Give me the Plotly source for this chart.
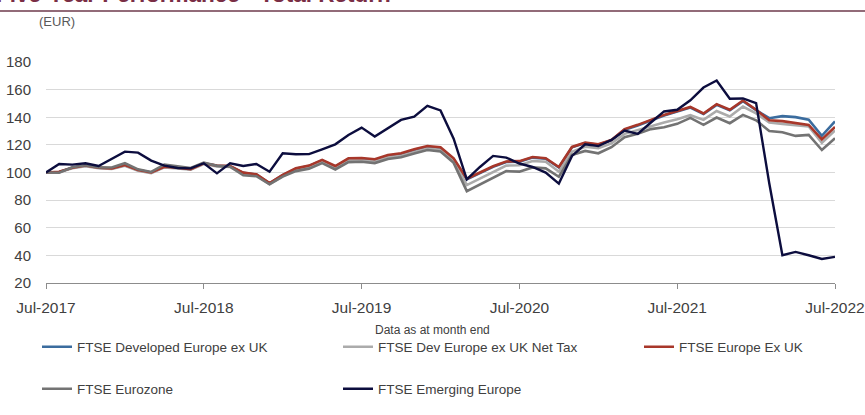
import plotly.graph_objects as go
import pandas as pd

months = [d.strftime("%b-%Y") for d in pd.date_range("2017-07-01", "2022-07-01", freq="MS")]
tick_labels = ["Jul-2017", "Jul-2018", "Jul-2019", "Jul-2020", "Jul-2021", "Jul-2022"]
y_ticks = [20, 40, 60, 80, 100, 120, 140, 160, 180]

dev_europe_ex_uk = [100, 100.4, 103.4, 104.9, 103.4, 102.9, 105.3, 101.7, 99.9, 104.1, 103.4, 102.4,
                    106.6, 104.9, 104.5, 99.7, 98.5, 92.2, 98.0, 102.7, 104.7, 108.7, 104.3, 109.8,
                    110.0, 109.0, 112.0, 113.2, 116.0, 118.4, 117.6, 109.6, 95.0, 99.6, 104.1, 107.6,
                    107.8, 110.8, 110.0, 103.6, 118.2, 121.3, 120.1, 123.3, 131.0, 134.1, 137.7, 141.3,
                    144.2, 147.0, 142.3, 149.0, 145.0, 151.6, 145.2, 139.3, 140.8, 140.1, 138.3, 126.6,
                    137.0]
dev_europe_net_tax = [100, 100.2, 103.1, 104.6, 103.1, 102.5, 104.9, 101.3, 99.5, 103.7, 103.0, 102.0,
                      106.2, 104.4, 104.0, 99.2, 97.9, 91.6, 97.4, 101.9, 103.8, 107.8, 103.4, 108.8,
                      108.9, 107.9, 111.0, 112.1, 114.9, 117.3, 116.4, 108.4, 90.9, 95.8, 100.6, 105.0,
                      105.2, 108.3, 107.8, 100.6, 115.0, 118.7, 117.6, 121.2, 128.0, 130.9, 133.8, 136.2,
                      138.6, 141.5, 138.1, 144.5, 140.6, 147.8, 142.8, 136.2, 135.2, 134.5, 133.3, 121.4,
                      130.4]
europe_ex_uk = [100, 100.5, 103.5, 105.0, 103.5, 103.0, 105.4, 101.8, 100.0, 104.2, 103.5, 102.5,
                106.7, 105.0, 104.7, 99.9, 98.7, 92.4, 98.2, 103.0, 105.0, 109.1, 104.7, 110.3,
                110.5, 109.6, 112.7, 113.9, 116.8, 119.2, 118.3, 110.3, 95.5, 100.0, 104.5, 108.0,
                108.2, 111.2, 110.3, 104.0, 118.5, 121.6, 120.4, 123.6, 131.4, 134.5, 138.1, 141.7,
                144.6, 147.5, 142.7, 149.5, 145.4, 152.1, 145.4, 137.8, 137.2, 136.0, 134.5, 124.0,
                133.0]
eurozone = [100, 99.8, 103.8, 105.2, 103.7, 103.6, 106.7, 102.3, 100.4, 105.8, 104.5, 103.3,
            107.2, 104.8, 104.2, 98.0, 97.3, 91.5, 97.0, 101.0, 102.8, 106.8, 102.2, 107.5,
            107.8, 106.8, 109.8, 111.0, 113.8, 116.3, 115.2, 107.0, 86.5, 91.4, 96.4, 101.0,
            100.6, 103.7, 103.0, 96.9, 112.7, 115.6, 113.9, 118.3, 125.6, 128.0, 131.4, 132.8,
            135.2, 139.5, 134.5, 139.8, 135.7, 141.7, 137.8, 130.1, 129.2, 126.5, 127.2, 116.3,
            124.8]
emerging_europe = [100, 106.2, 105.7, 106.7, 104.7, 109.6, 115.1, 114.4, 108.6, 105.0, 103.3, 103.0,
                   106.7, 99.4, 106.7, 104.7, 106.2, 100.6, 113.9, 113.2, 113.3, 116.8, 120.4, 127.2,
                   132.5, 126.0, 132.0, 138.1, 140.5, 148.3, 144.9, 124.5, 95.0, 104.0, 112.0, 110.8,
                   106.5, 104.0, 99.9, 92.0, 112.0, 120.4, 119.2, 123.6, 130.4, 127.9, 136.2, 144.2,
                   145.4, 152.3, 161.5, 166.6, 153.4, 153.6, 150.2, 92.2, 40.1, 42.5, 40.1, 37.4,
                   38.9]

W, H = 865, 415
# (name, values, colour, width, legend id, legend item x px, legend row y px)
series = [
    ("FTSE Developed Europe ex UK", dev_europe_ex_uk, "#3b6c9e", 2.6, "legend", 37, 347),
    ("FTSE Dev Europe ex UK Net Tax", dev_europe_net_tax, "#ababab", 2.6, "legend2", 338, 347),
    ("FTSE Europe Ex UK", europe_ex_uk, "#a8372a", 2.6, "legend3", 639, 347),
    ("FTSE Eurozone", eurozone, "#737373", 2.6, "legend4", 37, 389),
    ("FTSE Emerging Europe", emerging_europe, "#0c0d3e", 2.4, "legend5", 338, 389),
]

FONT = "Liberation Sans, Arial, sans-serif"

fig = go.Figure()
legends = {}
for name, vals, color, w, lg, lx, ly in series:
    fig.add_trace(go.Scatter(x=months, y=vals, name=name, mode="lines",
                             line=dict(color=color, width=w), legend=lg))
    legends[lg] = dict(orientation="h", xref="container", yref="container",
                       x=lx / W, y=1 - ly / H, xanchor="left", yanchor="middle",
                       font=dict(size=13.5, color="#404040"), bgcolor="rgba(0,0,0,0)")

L, R, T, B = 46, 30, 62, 132
PW, PH = W - L - R, H - T - B

def px_x(p):
    return (p - L) / PW

def px_y(p):
    return (H - B - p) / PH

fig.update_layout(
    width=W, height=H,
    margin=dict(l=L, r=R, t=T, b=B, autoexpand=False),
    paper_bgcolor="white", plot_bgcolor="white",
    font=dict(family=FONT, color="#404040"),
    xaxis=dict(type="category", range=[0, len(months) - 1], tickvals=tick_labels,
               ticktext=tick_labels, showgrid=False, showline=True, linecolor="#8c8c8c",
               linewidth=1, ticks="outside", ticklen=5, tickcolor="#8c8c8c",
               tickfont=dict(size=15.5, color="#404040"), ticklabelstandoff=5,
               zeroline=False, fixedrange=True, automargin=False),
    yaxis=dict(range=[20, 180], tickvals=y_ticks, showgrid=True, gridcolor="#d9d9d9",
               gridwidth=1, showline=False, ticks="", zeroline=False,
               tickfont=dict(size=15, color="#404040"), ticklabelstandoff=14,
               fixedrange=True, automargin=False),
    showlegend=True,
    **legends,
)

fig.add_shape(type="line", xref="paper", yref="paper", x0=px_x(0), x1=px_x(W),
              y0=px_y(11), y1=px_y(11), line=dict(color="#6e3a4b", width=1.5))

fig.add_annotation(text="<b>Five-Year Performance - Total Return</b>", xref="paper", yref="paper",
                   x=px_x(-6), y=px_y(9.5), xanchor="left", yanchor="bottom", showarrow=False,
                   font=dict(size=22.5, color="#7a2e45", family=FONT))
fig.add_annotation(text="(EUR)", xref="paper", yref="paper", x=px_x(56.5), y=px_y(21),
                   xanchor="center", yanchor="middle", showarrow=False,
                   font=dict(size=13, color="#595959", family=FONT))
fig.add_annotation(text="Data as at month end", xref="paper", yref="paper", x=px_x(432),
                   y=px_y(330), xanchor="center", yanchor="middle", showarrow=False,
                   font=dict(size=12, color="#404040", family=FONT))

fig.write_html("out.html", config={"displayModeBar": False},
               post_script="document.body.style.margin='0';document.body.style.overflow='hidden';")
